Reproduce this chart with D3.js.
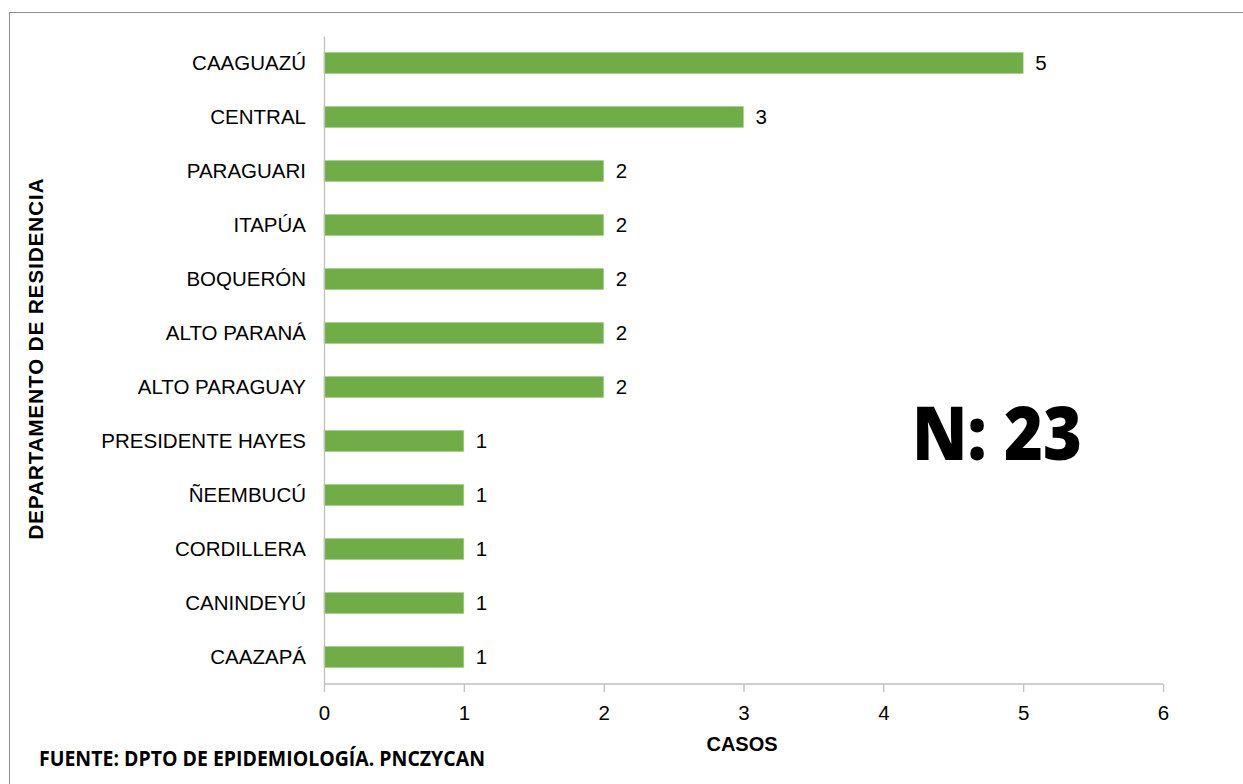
<!DOCTYPE html>
<html><head><meta charset="utf-8">
<script src="https://cdn.jsdelivr.net/npm/d3@7"></script>
<style>body{margin:0;background:#fff}svg{display:block}</style>
</head><body>
<svg id="c" width="1243" height="784"></svg>
<script>
const categories = ["CAAGUAZÚ","CENTRAL","PARAGUARI","ITAPÚA","BOQUERÓN","ALTO PARANÁ","ALTO PARAGUAY","PRESIDENTE HAYES","ÑEEMBUCÚ","CORDILLERA","CANINDEYÚ","CAAZAPÁ"];
const values = [5,3,2,2,2,2,2,1,1,1,1,1];
const xTicks = [0,1,2,3,4,5,6];
const xTitle = "CASOS";
const yTitle = "DEPARTAMENTO DE RESIDENCIA";
const source = "FUENTE: DPTO DE EPIDEMIOLOGÍA. PNCZYCAN";
const note = "N: 23";

(function(){
const svg = d3.select("#c");
const mL = 324, mR = 1163, mT = 36, mB = 684;
const font = "'Liberation Sans', Arial, sans-serif";
const fs = 20.5;

svg.append("rect").attr("x",9.5).attr("y",12.5).attr("width",1300).attr("height",900)
  .attr("fill","none").attr("stroke","#8c8c8c").attr("stroke-width",1);

const x = d3.scaleLinear().domain([0,6]).range([mL,mR]);
const y = d3.scaleBand().domain(categories).range([mT,mB]).paddingInner(0.61).paddingOuter(0.305);

svg.selectAll("rect.bar").data(values).join("rect").attr("class","bar")
  .attr("x",x(0)).attr("y",(d,i)=>y(categories[i]))
  .attr("width",d=>x(d)-x(0)).attr("height",y.bandwidth())
  .attr("fill","#70AD47").attr("stroke","#a9d18e").attr("stroke-width",0.6);

svg.selectAll("text.val").data(values).join("text").attr("class","val")
  .attr("x",d=>x(d)+12).attr("y",(d,i)=>y(categories[i])+y.bandwidth()/2)
  .attr("dy","0.36em").attr("font-family",font).attr("font-size",fs).attr("fill","#000")
  .text(d=>d);

const xa = svg.append("g").attr("transform",`translate(0,${mB})`)
  .call(d3.axisBottom(x).tickValues(xTicks).tickSize(8).tickPadding(13).tickFormat(d3.format("d")));
xa.select(".domain").attr("stroke","#bfbfbf").attr("stroke-width",1.3).attr("d",`M${mL},0H${mR}`);
xa.selectAll(".tick line").attr("stroke","#bfbfbf").attr("stroke-width",1.3);
xa.selectAll(".tick text").attr("font-family",font).attr("font-size",fs).attr("fill","#000");

const ya = svg.append("g").attr("transform",`translate(${mL},0)`)
  .call(d3.axisLeft(y).tickSize(0).tickPadding(18));
ya.select(".domain").attr("stroke","#bfbfbf").attr("stroke-width",1.3);
ya.selectAll(".tick text").attr("font-family",font).attr("font-size",fs).attr("fill","#000");

svg.append("text").attr("x",742).attr("y",751).attr("text-anchor","middle")
  .attr("font-family",font).attr("font-weight","bold").attr("font-size",20).text(xTitle);
svg.append("text").attr("transform","translate(43,359) rotate(-90)").attr("text-anchor","middle")
  .attr("font-family",font).attr("font-weight","bold").attr("font-size",20.5)
  .attr("textLength",361).attr("lengthAdjust","spacing").text(yTitle);

svg.append("text").attr("x",39).attr("y",766)
  .attr("font-family","'Open Sans', Lato, sans-serif").attr("font-weight","bold").attr("font-size",21)
  .attr("textLength",446).attr("lengthAdjust","spacingAndGlyphs").text(source);

svg.append("text").attr("x",912).attr("y",460)
  .attr("font-family","'Open Sans', Lato, sans-serif").attr("font-weight",800).attr("font-size",74)
  .attr("textLength",170).attr("lengthAdjust","spacingAndGlyphs").text(note);
})();
</script>
</body></html>
